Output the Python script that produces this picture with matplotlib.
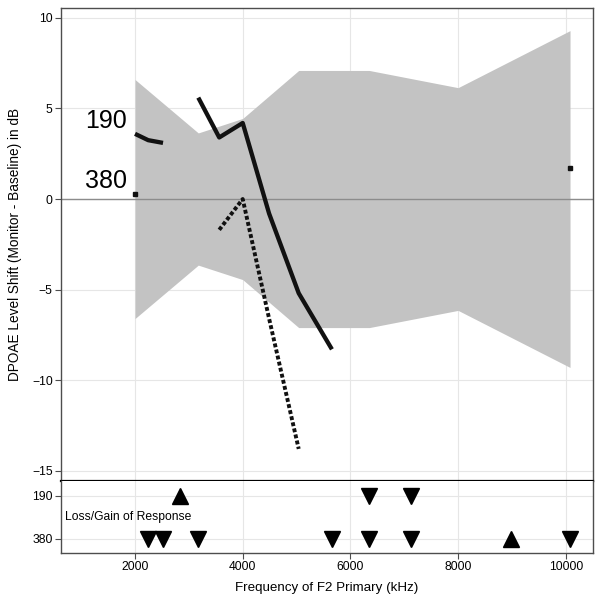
import numpy as np
import matplotlib
matplotlib.use('Agg')
import matplotlib.pyplot as plt

plt.rcParams['font.family'] = ['Liberation Sans', 'DejaVu Sans']

# F2 frequencies (1/6 octave steps)
freqs = [2000, 2245, 2520, 2828, 3175, 3564, 4000, 4490, 5040, 5657,
         6350, 7127, 8000, 8980, 10079]
nan = np.nan
shift_190 = [3.6, 3.25, 3.1, nan, 5.6, 3.4, 4.2, -0.8, -5.2, -8.3,
             nan, nan, nan, nan, nan]
shift_380 = [0.3, nan, nan, nan, nan, -1.7, 0.0, -6.6, -13.8, nan,
             nan, nan, nan, nan, 1.7]

# grey band (test-retest range)
band_freq = [2000, 3175, 4000, 5040, 6350, 8000, 10079]
band_upper = [6.6, 3.65, 4.45, 7.1, 7.1, 6.15, 9.3]
band_lower = [-v for v in band_upper]

# loss/gain of response markers
levels = ['190', '380']
gain_190 = [2828]
loss_190 = [6350, 7127]
gain_380 = [8980]
loss_380 = [2245, 2520, 3175, 5657, 6350, 7127, 10079]

fig = plt.figure(figsize=(6.02, 6.05), dpi=100)
ax = fig.add_axes([0.1013, 0.205, 0.8837, 0.7818])
ax2 = fig.add_axes([0.1013, 0.086, 0.8837, 0.119], sharex=ax)

frame_col = '#4d4d4d'
grid_col = '#e6e6e6'

ax.fill_between(band_freq, band_lower, band_upper, color='#c3c3c3', lw=0, zorder=1)
ax.axhline(0, color='#8c8c8c', lw=1, zorder=2)
ax.plot(freqs, shift_190, color='#111111', lw=3.1, solid_capstyle='butt', zorder=3)
ax.plot(freqs, shift_380, color='#111111', lw=2.8, linestyle=(0, (1, 0.6)),
        dash_capstyle='butt', zorder=3)
# isolated 380 points
s380 = np.array(shift_380)
f = np.array(freqs)
iso = [0, len(freqs) - 1]
ax.plot(f[iso], s380[iso], 's', color='#111111', ms=2.8, zorder=3)

ax.text(1850, 3.92, '190', fontsize=18, ha='right', va='baseline')
ax.text(1850, 0.6, '380', fontsize=18, ha='right', va='baseline')

ax.set_xlim(625, 10505)
ax.set_ylim(-15.57, 10.55)
ax.set_yticks([-15, -10, -5, 0, 5, 10])
ax.set_xticks([2000, 4000, 6000, 8000, 10000])
ax.grid(True, color=grid_col, lw=0.8, zorder=0)
ax.set_axisbelow(True)
ax.tick_params(axis='x', bottom=False, labelbottom=False)
ax.tick_params(axis='y', length=4, color=frame_col, labelsize=8.7, pad=2)
ax.set_ylabel('DPOAE Level Shift (Monitor - Baseline) in dB', fontsize=9.8, labelpad=7)

# lower panel
ax2.plot(gain_190, [1] * len(gain_190), '^', color='black', ms=12)
ax2.plot(loss_190, [1] * len(loss_190), 'v', color='black', ms=12)
ax2.plot(gain_380, [2] * len(gain_380), '^', color='black', ms=12)
ax2.plot(loss_380, [2] * len(loss_380), 'v', color='black', ms=12)
ax2.text(700, 1.49, 'Loss/Gain of Response', fontsize=8.7, va='center', ha='left')
ax2.set_ylim(2.33, 0.65)
ax2.set_yticks([1, 2])
ax2.set_yticklabels(levels)
ax2.grid(True, color=grid_col, lw=0.8, zorder=0)
ax2.set_axisbelow(True)
ax2.tick_params(axis='both', length=4, color=frame_col, labelsize=8.7, pad=2)
ax2.set_xlabel('Frequency of F2 Primary (kHz)', fontsize=9.6, labelpad=6)

for a in (ax, ax2):
    for sp in a.spines.values():
        sp.set_color(frame_col)
        sp.set_linewidth(1)
ax.spines['bottom'].set_color('black')
ax.spines['bottom'].set_linewidth(1.6)
ax2.spines['top'].set_visible(False)

fig.savefig('out.png', dpi=100)
